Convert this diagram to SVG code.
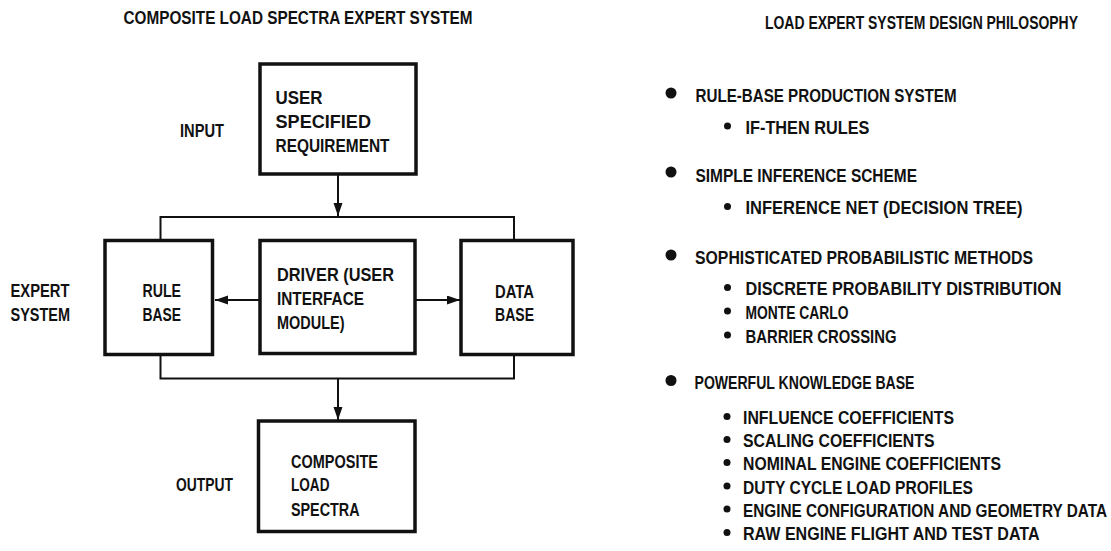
<svg xmlns="http://www.w3.org/2000/svg" width="1111" height="551" viewBox="0 0 1111 551">
  <style>
    text { font-family: "Liberation Sans", Arial, sans-serif; font-size: 17.5px; font-weight: bold; fill: #111; }
    .box { fill: #fff; stroke: #111; stroke-width: 3.5; }
    .wire { fill: none; stroke: #111; stroke-width: 2; }
    .dot { fill: #111; }
  </style>
  <defs>
    <marker id="arrow" markerUnits="userSpaceOnUse" markerWidth="14" markerHeight="10" refX="13" refY="4.5" orient="auto">
      <path d="M0,0 L13,4.5 L0,9 Z" fill="#111"/>
    </marker>
  </defs>
  <rect width="1111" height="551" fill="#fff"/>

  <!-- left panel: expert system block diagram -->
  <text x="123.5" y="24" textLength="349" lengthAdjust="spacingAndGlyphs">COMPOSITE LOAD SPECTRA EXPERT SYSTEM</text>

  <text x="180" y="137" textLength="44" lengthAdjust="spacingAndGlyphs">INPUT</text>
  <text x="10.5" y="297" textLength="59" lengthAdjust="spacingAndGlyphs">EXPERT</text>
  <text x="10.5" y="320.5" textLength="59.5" lengthAdjust="spacingAndGlyphs">SYSTEM</text>
  <text x="176" y="491" textLength="57" lengthAdjust="spacingAndGlyphs">OUTPUT</text>

  <g id="connectors">
    <!-- input to the bus -->
    <line class="wire" x1="338" y1="175" x2="338" y2="216" marker-end="url(#arrow)"/>
    <!-- top bus -->
    <polyline class="wire" points="160.5,240 160.5,217 514,217 514,240"/>
    <!-- bottom bus -->
    <polyline class="wire" points="160.5,355 160.5,378.5 514,378.5 514,355"/>
    <!-- bus to output -->
    <line class="wire" x1="338" y1="378.5" x2="338" y2="420" marker-end="url(#arrow)"/>
    <!-- driver to rule base / data base -->
    <line class="wire" x1="260" y1="300" x2="215" y2="300" marker-end="url(#arrow)"/>
    <line class="wire" x1="415" y1="300" x2="460" y2="300" marker-end="url(#arrow)"/>
  </g>

  <g id="user-requirement">
    <rect class="box" x="260" y="64" width="156" height="110"/>
    <text x="275.5" y="104" textLength="47" lengthAdjust="spacingAndGlyphs">USER</text>
    <text x="275.5" y="127.5" textLength="95.5" lengthAdjust="spacingAndGlyphs">SPECIFIED</text>
    <text x="275.5" y="151.5" textLength="114" lengthAdjust="spacingAndGlyphs">REQUIREMENT</text>
  </g>

  <g id="rule-base">
    <rect class="box" x="105" y="240.5" width="107.5" height="114"/>
    <text x="142.5" y="297" textLength="38.5" lengthAdjust="spacingAndGlyphs">RULE</text>
    <text x="142.5" y="320.5" textLength="38.5" lengthAdjust="spacingAndGlyphs">BASE</text>
  </g>

  <g id="driver">
    <rect class="box" x="260" y="240.5" width="155" height="113"/>
    <text x="277" y="281" textLength="117" lengthAdjust="spacingAndGlyphs">DRIVER (USER</text>
    <text x="277" y="305" textLength="87" lengthAdjust="spacingAndGlyphs">INTERFACE</text>
    <text x="277" y="328.5" textLength="67.5" lengthAdjust="spacingAndGlyphs">MODULE)</text>
  </g>

  <g id="data-base">
    <rect class="box" x="461" y="240.5" width="112" height="114"/>
    <text x="495" y="297.5" textLength="39" lengthAdjust="spacingAndGlyphs">DATA</text>
    <text x="495" y="321" textLength="39" lengthAdjust="spacingAndGlyphs">BASE</text>
  </g>

  <g id="composite-load-spectra">
    <rect class="box" x="258.5" y="421" width="156.5" height="110.5"/>
    <text x="291" y="467.5" textLength="87" lengthAdjust="spacingAndGlyphs">COMPOSITE</text>
    <text x="291" y="491" textLength="38.5" lengthAdjust="spacingAndGlyphs">LOAD</text>
    <text x="291" y="516" textLength="68.5" lengthAdjust="spacingAndGlyphs">SPECTRA</text>
  </g>

  <!-- right panel: design philosophy list -->
  <g id="philosophy">
    <text x="765" y="28.5" textLength="313" lengthAdjust="spacingAndGlyphs">LOAD EXPERT SYSTEM DESIGN PHILOSOPHY</text>

    <circle class="dot" cx="671" cy="93" r="5.5"/>
    <text x="695.5" y="101.5" textLength="261" lengthAdjust="spacingAndGlyphs">RULE-BASE PRODUCTION SYSTEM</text>
    <circle class="dot" cx="727.5" cy="126" r="3.5"/>
    <text x="745.5" y="133.5" textLength="124" lengthAdjust="spacingAndGlyphs">IF-THEN RULES</text>

    <circle class="dot" cx="671" cy="172" r="5.5"/>
    <text x="695.5" y="181.5" textLength="221.5" lengthAdjust="spacingAndGlyphs">SIMPLE INFERENCE SCHEME</text>
    <circle class="dot" cx="727.5" cy="206.5" r="3.5"/>
    <text x="745.5" y="214" textLength="277" lengthAdjust="spacingAndGlyphs">INFERENCE NET (DECISION TREE)</text>

    <circle class="dot" cx="671" cy="255" r="5.5"/>
    <text x="695" y="263.5" textLength="338" lengthAdjust="spacingAndGlyphs">SOPHISTICATED PROBABILISTIC METHODS</text>
    <circle class="dot" cx="727.5" cy="287.5" r="3.5"/>
    <text x="745.5" y="295" textLength="316" lengthAdjust="spacingAndGlyphs">DISCRETE PROBABILITY DISTRIBUTION</text>
    <circle class="dot" cx="727.5" cy="311" r="3.5"/>
    <text x="745.5" y="318.5" textLength="103" lengthAdjust="spacingAndGlyphs">MONTE CARLO</text>
    <circle class="dot" cx="727.5" cy="335" r="3.5"/>
    <text x="745.5" y="342.5" textLength="151" lengthAdjust="spacingAndGlyphs">BARRIER CROSSING</text>

    <circle class="dot" cx="671" cy="380.5" r="5.5"/>
    <text x="694.5" y="389" textLength="220" lengthAdjust="spacingAndGlyphs">POWERFUL KNOWLEDGE BASE</text>
    <circle class="dot" cx="727" cy="416.5" r="3.5"/>
    <text x="743" y="424" textLength="211" lengthAdjust="spacingAndGlyphs">INFLUENCE COEFFICIENTS</text>
    <circle class="dot" cx="727" cy="439.5" r="3.5"/>
    <text x="743" y="447" textLength="191.5" lengthAdjust="spacingAndGlyphs">SCALING COEFFICIENTS</text>
    <circle class="dot" cx="727" cy="462.5" r="3.5"/>
    <text x="743" y="470" textLength="258" lengthAdjust="spacingAndGlyphs">NOMINAL ENGINE COEFFICIENTS</text>
    <circle class="dot" cx="727" cy="486" r="3.5"/>
    <text x="743" y="493.5" textLength="230" lengthAdjust="spacingAndGlyphs">DUTY CYCLE LOAD PROFILES</text>
    <circle class="dot" cx="727" cy="509" r="3.5"/>
    <text x="743" y="516.5" textLength="364" lengthAdjust="spacingAndGlyphs">ENGINE CONFIGURATION AND GEOMETRY DATA</text>
    <circle class="dot" cx="727" cy="532.5" r="3.5"/>
    <text x="743" y="540" textLength="296.5" lengthAdjust="spacingAndGlyphs">RAW ENGINE FLIGHT AND TEST DATA</text>
  </g>
</svg>
